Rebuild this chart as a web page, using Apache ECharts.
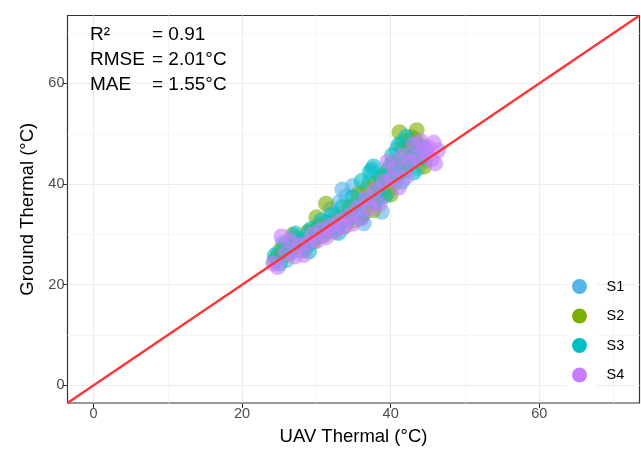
<!DOCTYPE html>
<html>
<head>
<meta charset="utf-8">
<script src="https://cdn.jsdelivr.net/npm/echarts@6/dist/echarts.min.js"></script>
<style>
  html, body { margin: 0; padding: 0; background: #fff; }
  #chart { width: 641px; height: 451px; }
</style>
</head>
<body>
<div id="chart"></div>
<script>
// Ground vs UAV thermal readings, [UAV °C, Ground °C]
const s1 = [[24.3,24.6],[24.9,26.4],[25.5,28.3],[26.0,24.9],[26.6,27.3],[27.2,29.4],[27.8,26.9],[28.4,28.2],
  [29.0,30.5],[29.6,29.0],[30.2,31.9],[30.8,29.8],[31.4,32.4],[32.0,31.1],[32.6,33.8],[33.1,36.4],[33.5,38.9],
  [34.0,37.6],[34.4,34.6],[34.9,39.6],[35.3,36.0],[35.8,33.2],[36.2,37.9],[36.7,35.4],[37.1,40.4],[37.5,42.9],
  [38.0,37.0],[38.4,39.8],[38.8,34.5],[39.2,41.6],[39.6,38.2],[40.0,43.8],[40.4,40.0],[40.8,46.9],[41.2,44.6],
  [41.6,48.5],[42.0,42.6],[42.5,47.3],[42.9,45.0],[43.3,48.8],[43.7,43.2],[44.1,46.4],[44.6,44.6],[36.4,32.2],
  [31.9,35.0]];
const s2 = [[24.6,25.2],[25.3,27.0],[26.1,26.0],[26.8,29.9],[27.5,28.3],[28.2,26.8],[28.9,30.6],[29.6,28.5],
  [30.3,31.3],[31.0,29.9],[31.3,36.1],[31.9,32.2],[32.5,30.8],[33.2,33.3],[33.9,31.7],[34.5,35.5],[35.1,32.8],
  [35.7,38.1],[36.3,34.0],[36.9,39.2],[37.4,36.3],[38.0,40.1],[38.6,37.5],[39.2,42.0],[39.8,39.3],[40.3,44.3],
  [40.8,41.4],[41.2,50.3],[41.6,47.1],[42.1,44.1],[42.6,48.5],[43.1,46.0],[43.5,50.7],[44.0,47.8],[44.5,43.5],
  [30.0,33.4],[34.6,33.6],[37.7,34.8],[40.0,37.9],[42.9,49.3]];
const s3 = [[24.4,25.8],[25.1,24.2],[25.8,27.9],[26.5,26.4],[27.2,30.2],[27.9,28.9],[28.6,27.6],[29.3,31.1],
  [30.0,29.6],[30.7,32.8],[31.4,30.9],[32.1,33.9],[32.8,31.5],[33.5,35.4],[34.2,32.9],[34.9,37.4],[35.5,34.8],
  [36.1,40.6],[36.7,36.9],[37.2,42.4],[37.7,43.5],[38.2,38.6],[38.7,41.2],[39.2,37.6],[39.7,43.0],[40.2,45.7],
  [40.7,41.8],[41.1,47.8],[41.6,43.9],[42.1,49.4],[42.6,45.6],[43.1,42.3],[43.6,47.6],[44.1,45.2],[44.7,47.0],
  [29.0,26.6],[33.0,30.3],[36.0,33.4],[38.0,36.4],[41.5,40.5]];
const s4 = [[24.2,24.2],[24.8,23.5],[25.3,29.6],[25.9,26.2],[26.5,28.8],[27.1,25.6],[27.7,27.9],[28.3,25.9],
  [28.9,28.4],[29.5,30.0],[30.1,28.7],[30.7,31.0],[31.3,29.4],[31.9,31.7],[32.5,30.4],[33.1,32.6],[33.7,31.4],
  [34.3,33.6],[34.9,32.1],[35.5,35.2],[36.1,33.2],[36.7,37.2],[37.3,35.2],[37.9,38.8],[38.5,36.0],[39.1,40.4],
  [39.6,44.5],[40.1,41.1],[40.6,43.1],[41.1,39.3],[41.6,45.6],[42.1,41.4],[42.6,44.4],[43.1,47.9],[43.6,45.4],
  [44.1,48.5],[44.6,46.3],[45.1,47.3],[45.5,44.9],[46.0,44.1],[46.4,46.7],[45.8,48.2]];

const seriesNames = ['S1', 'S2', 'S3', 'S4'];
const seriesColors = ['#56B4E9', '#7CAE00', '#00BFC4', '#C77CFF'];
const majorTicks = [0, 20, 40, 60];
const minorTicks = [10, 30, 50, 70];
const axisMin = -3.5, axisMax = 73.5;
const identityLine = [[axisMin, axisMin], [axisMax, axisMax]];
const statLabels = ['R²', 'RMSE', 'MAE'];
const statValues = ['= 0.91', '= 2.01°C', '= 1.55°C'];

const font = 'Liberation Sans, Arial, sans-serif';
const chart = echarts.init(document.getElementById('chart'), null, { renderer: 'canvas' });

function mainAxis(name, nameGap, pos) {
  return {
    type: 'value', min: axisMin, max: axisMax, position: pos,
    name: name, nameLocation: 'middle', nameGap: nameGap,
    nameTextStyle: { fontFamily: font, fontSize: 18.5, color: '#000' },
    axisLine: { show: false, onZero: false },
    axisTick: { show: true, length: 5, customValues: majorTicks, lineStyle: { color: '#333', width: 1 } },
    axisLabel: { customValues: majorTicks, margin: 3, fontFamily: font, fontSize: 14.5, color: '#4d4d4d' },
    splitLine: { show: true, lineStyle: { color: '#ebebeb', width: 1.1 } }
  };
}
function minorAxis(pos) {
  return {
    type: 'value', min: axisMin, max: axisMax, position: pos,
    axisLine: { show: false, onZero: false },
    axisTick: { show: false, customValues: minorTicks },
    axisLabel: { show: false, customValues: minorTicks },
    splitLine: { show: true, lineStyle: { color: '#f2f2f2', width: 0.8 } }
  };
}

const scatterSeries = [s1, s2, s3, s4].map((d, i) => ({
  name: seriesNames[i], type: 'scatter', data: d,
  xAxisIndex: 0, yAxisIndex: 0,
  symbol: 'circle', symbolSize: 16,
  itemStyle: { color: seriesColors[i], opacity: 0.6 },
  emphasis: { disabled: true }, z: 2
}));

const statText = [];
statLabels.forEach((t, i) => {
  statText.push({ type: 'text', left: 90, top: 25 + i * 25, z: 10,
    style: { text: t, font: '19px ' + font, fill: '#000' } });
  statText.push({ type: 'text', left: 152, top: 25 + i * 25, z: 10,
    style: { text: statValues[i], font: '19px ' + font, fill: '#000' } });
});

chart.setOption({
  animation: false,
  backgroundColor: '#fff',
  grid: { left: 67.5, right: 1.5, top: 15.5, bottom: 45, show: true,
    borderColor: '#333', borderWidth: 1.2, backgroundColor: 'transparent' },
  xAxis: [mainAxis('UAV Thermal (°C)', 24, 'bottom'), minorAxis('bottom')],
  yAxis: [mainAxis('Ground Thermal (°C)', 30, 'left'), minorAxis('left')],
  legend: {
    data: seriesNames, orient: 'vertical', left: 567, top: 274,
    itemWidth: 30, itemHeight: 15, itemGap: 14.5, icon: 'circle',
    itemStyle: { opacity: 1 },
    textStyle: { fontFamily: font, fontSize: 14.5, color: '#000', padding: [0, 0, 0, 7] },
    selectedMode: false
  },
  graphic: [
    { type: 'rect', left: 567, top: 271, z: 1, silent: true,
      shape: { width: 30, height: 119 }, style: { fill: '#fff' } }
  ].concat(statText),
  series: scatterSeries.concat([{
    type: 'line', data: identityLine, xAxisIndex: 0, yAxisIndex: 0,
    symbol: 'none', clip: true, silent: true, z: 5,
    lineStyle: { color: '#FF3333', width: 2.3 }
  }])
});
</script>
</body>
</html>
